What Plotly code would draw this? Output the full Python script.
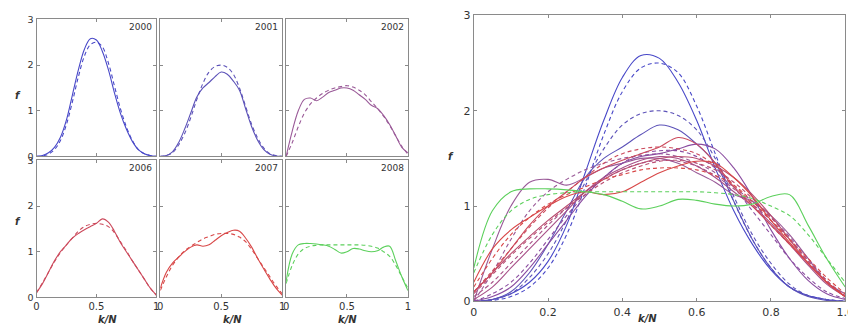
import plotly.graph_objects as go

W, H = 856, 333

k_over_n = [round(i * 0.05, 2) for i in range(21)]

years = ["2000", "2001", "2002", "2003", "2004", "2005", "2006", "2007", "2008"]

empirical = {
    "2000": [0.0, 0.02, 0.08, 0.2, 0.42, 0.8, 1.35, 1.9, 2.35, 2.58, 2.55, 2.3, 1.9, 1.4, 0.95, 0.6, 0.33, 0.15, 0.06, 0.02, 0.0],
    "2001": [0.0, 0.02, 0.1, 0.3, 0.6, 0.95, 1.3, 1.5, 1.62, 1.75, 1.85, 1.8, 1.65, 1.45, 1.05, 0.65, 0.35, 0.15, 0.05, 0.01, 0.0],
    "2002": [0.0, 0.55, 1.0, 1.25, 1.28, 1.22, 1.3, 1.4, 1.45, 1.5, 1.5, 1.45, 1.35, 1.25, 1.12, 1.05, 0.9, 0.7, 0.45, 0.2, 0.08],
    "2003": [0.0, 0.05, 0.15, 0.35, 0.6, 0.85, 1.1, 1.3, 1.45, 1.52, 1.55, 1.6, 1.65, 1.6, 1.4, 1.1, 0.75, 0.45, 0.22, 0.08, 0.02],
    "2004": [0.02, 0.15, 0.35, 0.55, 0.75, 0.95, 1.15, 1.3, 1.4, 1.48, 1.52, 1.5, 1.42, 1.3, 1.15, 1.0, 0.82, 0.6, 0.38, 0.18, 0.05],
    "2005": [0.1, 0.3, 0.5, 0.68, 0.85, 1.0, 1.15, 1.28, 1.38, 1.45, 1.5, 1.52, 1.5, 1.42, 1.3, 1.12, 0.9, 0.65, 0.4, 0.2, 0.05],
    "2006": [0.1, 0.3, 0.55, 0.8, 1.0, 1.15, 1.3, 1.4, 1.48, 1.55, 1.62, 1.72, 1.65, 1.45, 1.2, 1.0, 0.8, 0.6, 0.4, 0.2, 0.05],
    "2007": [0.2, 0.55, 0.75, 0.88, 1.0, 1.1, 1.15, 1.12, 1.15, 1.25, 1.35, 1.42, 1.47, 1.45, 1.3, 1.1, 0.85, 0.62, 0.4, 0.2, 0.05],
    "2008": [0.35, 0.95, 1.15, 1.18, 1.18, 1.17, 1.15, 1.12, 1.05, 0.97, 1.0, 1.07, 1.06, 1.02, 1.0, 1.02, 1.1, 1.12, 0.8, 0.45, 0.15],
}

model = {
    "2000": [0.0, 0.01, 0.05, 0.15, 0.35, 0.7, 1.2, 1.75, 2.2, 2.45, 2.5, 2.4, 2.05, 1.55, 1.05, 0.65, 0.35, 0.15, 0.06, 0.02, 0.0],
    "2001": [0.0, 0.02, 0.08, 0.25, 0.5, 0.85, 1.25, 1.6, 1.85, 1.97, 2.0, 1.95, 1.8, 1.5, 1.1, 0.7, 0.4, 0.18, 0.06, 0.02, 0.0],
    "2002": [0.0, 0.3, 0.65, 0.95, 1.15, 1.28, 1.38, 1.45, 1.5, 1.53, 1.55, 1.52, 1.45, 1.35, 1.2, 1.05, 0.88, 0.68, 0.45, 0.22, 0.05],
    "2003": [0.0, 0.08, 0.2, 0.4, 0.65, 0.9, 1.12, 1.3, 1.45, 1.55, 1.58, 1.58, 1.52, 1.4, 1.2, 0.95, 0.7, 0.45, 0.25, 0.1, 0.03],
    "2004": [0.05, 0.2, 0.4, 0.6, 0.8, 0.98, 1.15, 1.28, 1.38, 1.45, 1.48, 1.47, 1.42, 1.32, 1.18, 1.02, 0.85, 0.65, 0.42, 0.2, 0.06],
    "2005": [0.08, 0.28, 0.48, 0.66, 0.83, 0.98, 1.12, 1.25, 1.35, 1.42, 1.47, 1.48, 1.45, 1.38, 1.25, 1.08, 0.88, 0.66, 0.43, 0.22, 0.06],
    "2006": [0.1, 0.32, 0.55, 0.78, 0.98, 1.15, 1.3, 1.45, 1.55, 1.6, 1.62, 1.6, 1.55, 1.42, 1.22, 1.02, 0.8, 0.6, 0.4, 0.2, 0.05],
    "2007": [0.15, 0.45, 0.7, 0.88, 1.02, 1.12, 1.2, 1.28, 1.33, 1.38, 1.4, 1.4, 1.38, 1.32, 1.22, 1.05, 0.85, 0.65, 0.45, 0.25, 0.08],
    "2008": [0.3, 0.7, 0.95, 1.07, 1.12, 1.14, 1.15, 1.15, 1.15, 1.15, 1.15, 1.15, 1.15, 1.14, 1.12, 1.08, 1.0, 0.9, 0.7, 0.45, 0.2],
}

colors = {
    "2000": "#4848c8", "2001": "#5c52b8", "2002": "#9a5a98", "2003": "#8a4ca0",
    "2004": "#a85088", "2005": "#b84c70", "2006": "#cc4a5c", "2007": "#d84848",
    "2008": "#5cd05c",
}

panel_years = ["2000", "2001", "2002", "2006", "2007", "2008"]
y_ticks = [0, 1, 2, 3]
small_x_ticks = [0, 0.5, 1]
small_x_ticktext = ["0", "0.5", "1"]
big_x_ticks = [0, 0.2, 0.4, 0.6, 0.8, 1.0]
big_x_ticktext = ["0", "0.2", "0.4", "0.6", "0.8", "1.0"]

fig = go.Figure()

# compensation for how the page is rendered/photographed
def cx(p):
    return (p - 9.46) / 0.9864

def cy(p):
    return (p - 12.5) / 0.9615

def px_dom_x(a, b):
    return [cx(a) / W, cx(b) / W]

def px_dom_y(top, bottom):
    return [1 - cy(bottom) / H, 1 - cy(top) / H]

col_px = [(34, 154), (158, 280), (284, 406)]
row_px = [(18, 155), (159, 296)]

axis_common = dict(showline=True, linecolor="#8a8a8a", linewidth=1, mirror="ticks",
                   ticks="inside", ticklen=3, tickcolor="#8a8a8a", showgrid=False,
                   zeroline=False, tickfont=dict(family="DejaVu Sans", size=10, color="#333"))

layout = {}
for i, yr in enumerate(panel_years):
    r, c = divmod(i, 3)
    n = i + 1
    xa = "x" if n == 1 else f"x{n}"
    ya = "y" if n == 1 else f"y{n}"
    layout["xaxis" if n == 1 else f"xaxis{n}"] = dict(
        axis_common, domain=px_dom_x(*col_px[c]), range=[0, 1], anchor=ya,
        tickvals=small_x_ticks, ticktext=small_x_ticktext, showticklabels=(r == 1))
    layout["yaxis" if n == 1 else f"yaxis{n}"] = dict(
        axis_common, domain=px_dom_y(*row_px[r]), range=[0, 3], anchor=xa,
        tickvals=y_ticks, showticklabels=(c == 0),
        tickfont=dict(family="DejaVu Sans", size=9.5, color="#333"))
    fig.add_trace(go.Scatter(x=k_over_n, y=empirical[yr], mode="lines", xaxis=xa, yaxis=ya,
                             line=dict(color=colors[yr], width=1.1, shape="spline"), showlegend=False))
    fig.add_trace(go.Scatter(x=k_over_n, y=model[yr], mode="lines", xaxis=xa, yaxis=ya,
                             line=dict(color=colors[yr], width=1.1, shape="spline", dash="4px,3px"), showlegend=False))
    fig.add_annotation(x=1, y=3, xref=xa, yref=ya, text=yr, showarrow=False,
                       xanchor="right", yanchor="top", xshift=-2, yshift=-1,
                       font=dict(family="DejaVu Sans", size=9, color="#333"))

layout["xaxis7"] = dict(axis_common, domain=px_dom_x(472, 844), range=[0, 1], anchor="y7",
                        tickvals=big_x_ticks, ticktext=big_x_ticktext,
                        tickfont=dict(family="DejaVu Sans", size=11, color="#333"))
layout["yaxis7"] = dict(axis_common, domain=px_dom_y(14, 300), range=[0, 3], anchor="x7",
                        tickvals=y_ticks, tickfont=dict(family="DejaVu Sans", size=11, color="#333"))
for yr in years:
    fig.add_trace(go.Scatter(x=k_over_n, y=empirical[yr], mode="lines", xaxis="x7", yaxis="y7",
                             line=dict(color=colors[yr], width=1.1, shape="spline"), showlegend=False))
    fig.add_trace(go.Scatter(x=k_over_n, y=model[yr], mode="lines", xaxis="x7", yaxis="y7",
                             line=dict(color=colors[yr], width=1.1, shape="spline", dash="4px,3px"), showlegend=False))

lab_font = dict(family="DejaVu Sans", size=10, color="#333")
for (a, b) in col_px:
    fig.add_annotation(x=cx((a + b) / 2) / W, y=1 - cy(326) / H, xref="paper", yref="paper",
                       text="<b><i>k/N</i></b>", showarrow=False, font=lab_font)
for (t, b) in row_px:
    fig.add_annotation(x=cx(10) / W, y=1 - cy((t + b) / 2) / H, xref="paper", yref="paper",
                       text="<b><i>f</i></b>", showarrow=False, font=lab_font)
fig.add_annotation(x=cx((472 + 844) / 2) / W, y=1 - cy(325) / H, xref="paper", yref="paper",
                   text="<b><i>k/N</i></b>", showarrow=False, font=lab_font)
fig.add_annotation(x=cx(449) / W, y=1 - cy(155) / H, xref="paper", yref="paper",
                   text="<b><i>f</i></b>", showarrow=False, font=lab_font)

fig.update_layout(**layout)
fig.update_layout(width=W, height=H, margin=dict(l=0, r=0, t=0, b=0),
                  paper_bgcolor="white", plot_bgcolor="white")

fig.write_html("out.html")
